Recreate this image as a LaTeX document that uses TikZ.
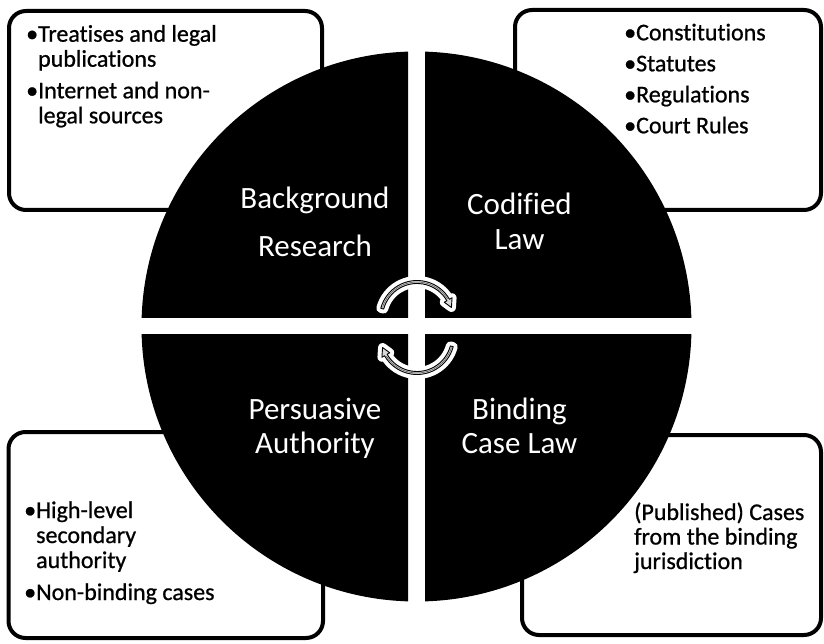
\documentclass[tikz,border=0pt]{standalone}
\usepackage{fontspec}
\setmainfont{Carlito}[Ligatures=NoCommon]
\newfontfamily\boxfont{Carlito}[Ligatures=NoCommon,FakeBold=0.8]
\newcommand\cycarrow[3]{%
  \begin{scope}[shift={(#1,#2)},rotate=#3]
    \path[draw=white,fill=white,line width=9pt,line join=round]
      (165:37.5) arc[start angle=165,end angle=30,radius=37.5] -- (30:40.5) -- (17:36) -- (30:31.5) -- (30:34.5)
      arc[start angle=30,end angle=165,radius=34.5] -- cycle;
    \path[draw=black,fill=gray!30,line width=0.9pt,line join=round]
      (165:37.5) arc[start angle=165,end angle=30,radius=37.5] -- (30:40.5) -- (17:36) -- (30:31.5) -- (30:34.5)
      arc[start angle=30,end angle=165,radius=34.5] -- cycle;
    \draw[gray!60!black,line width=0.5pt] (163:36) arc[start angle=163,end angle=32,radius=36];
  \end{scope}}
\begin{document}
\begin{tikzpicture}[x=1pt,y=1pt,
  box/.style={draw=black,fill=white,line width=4pt,rounded corners=17pt,inner sep=0pt,outer sep=0pt},
  boxtext/.style={anchor=base west,align=left,inner sep=0pt,text=black},
  qlabel/.style={anchor=base,align=center,inner sep=0pt,text=white}]
\useasboundingbox (0,0) rectangle (824,643);
% boxes (behind the circle)
\node[box,minimum width=313pt,minimum height=199pt] (tlbox) at (165.5,532.5) {};
\node[box,minimum width=306pt,minimum height=200pt] (trbox) at (668,533) {};
\node[box,minimum width=314.5pt,minimum height=206pt] (blbox) at (165.75,108) {};
\node[box,minimum width=299pt,minimum height=200pt] (brbox) at (671.5,108) {};
% box texts (anchor = baseline of the last line)
\node[boxtext,font=\boxfont\fontsize{24}{25}\selectfont] (tltext) at (26,519.7)
  {•Treatises and legal\\\hphantom{•}publications\\[6.6pt]•Internet and non-\\\hphantom{•}legal sources};
\node[boxtext,font=\boxfont\fontsize{24}{31}\selectfont] (trtext) at (624,509.7)
  {•Constitutions\\•Statutes\\•Regulations\\•Court Rules};
\node[boxtext,font=\boxfont\fontsize{24}{25}\selectfont] (bltext) at (24,43)
  {•High-level\\\hphantom{•}secondary\\\hphantom{•}authority\\[7pt]•Non-binding cases};
\node[boxtext,font=\boxfont\fontsize{24}{24.5}\selectfont] (brtext) at (634,74)
  {(Published) Cases\\from the binding\\jurisdiction};
% quadrants
\coordinate (c) at (416.5,316.5);
\begin{scope}\clip (408,325) rectangle (100,643); \fill[black] (c) circle[radius=275]; \end{scope}
\begin{scope}\clip (425,325) rectangle (760,643); \fill[black] (c) circle[radius=275]; \end{scope}
\begin{scope}\clip (408,308) rectangle (100,0); \fill[black] (c) circle[radius=275]; \end{scope}
\begin{scope}\clip (425,308) rectangle (760,0); \fill[black] (c) circle[radius=275]; \end{scope}
% quadrant labels
\node[qlabel,font=\fontsize{31}{48.4}\selectfont] (bg) at (315,386.3) {Background\\Research};
\node[qlabel,font=\fontsize{31}{35}\selectfont] (cl) at (519.5,393) {Codified\\Law};
\node[qlabel,font=\fontsize{31}{33}\selectfont] (pa) at (315,190) {Persuasive\\Authority};
\node[qlabel,font=\fontsize{31}{33}\selectfont] (bc) at (519.5,190) {Binding\\Case Law};
% central cycle arrows
\cycarrow{417}{325}{0}
\cycarrow{417}{306}{180}
\end{tikzpicture}
\end{document}
